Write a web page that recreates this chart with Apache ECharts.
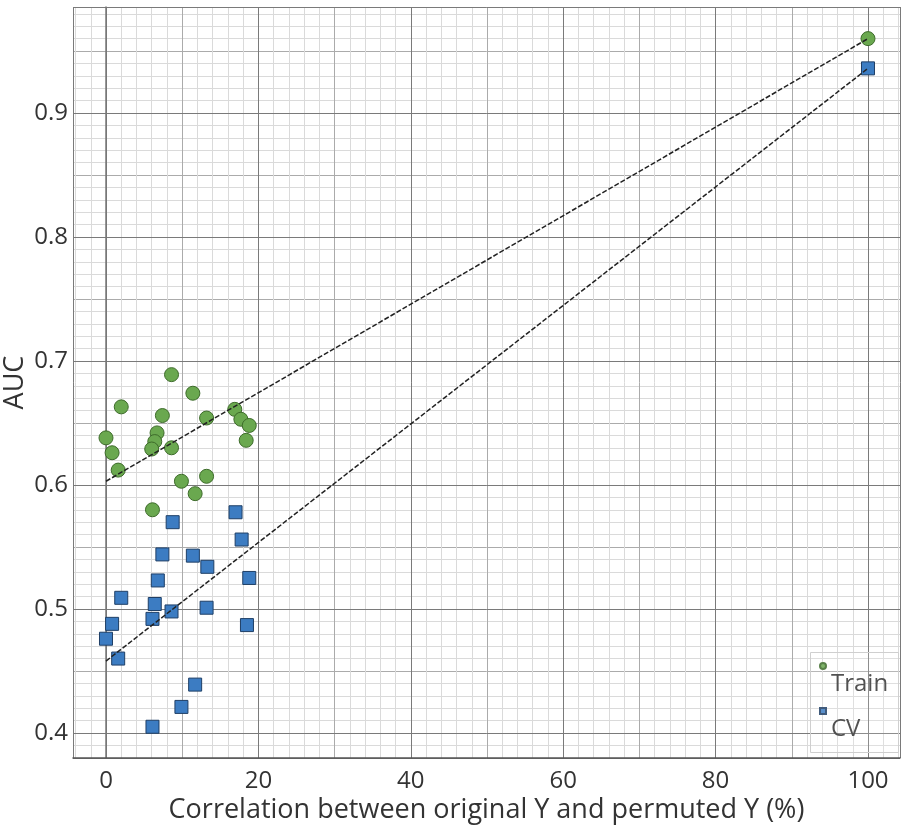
<!DOCTYPE html>
<html><head><meta charset="utf-8">
<script src="https://cdn.jsdelivr.net/npm/echarts@6/dist/echarts.min.js"></script>
<style>html,body{margin:0;padding:0;background:#fff}#c{width:902px;height:829px}</style>
</head><body><div id="c"></div>
<script>
// ---- data ----
const trainX = [8.6, 11.4, 2.0, 7.4, 13.2, 16.9, 17.7, 18.8, 18.4, 6.7, 6.4, 6.0, 8.6, 0, 0.8, 1.6, 9.9, 13.2, 11.7, 6.1, 100];
const trainY = [0.689, 0.674, 0.663, 0.656, 0.654, 0.661, 0.653, 0.648, 0.636, 0.642, 0.635, 0.629, 0.630, 0.638, 0.626, 0.612, 0.603, 0.607, 0.593, 0.580, 0.960];
const cvX = [17.0, 8.75, 17.8, 7.4, 11.4, 13.3, 18.8, 6.8, 2.0, 6.4, 8.6, 13.2, 6.1, 0.8, 18.5, 0, 1.6, 11.7, 9.9, 6.1, 100];
const cvY = [0.578, 0.570, 0.556, 0.544, 0.543, 0.534, 0.525, 0.523, 0.509, 0.504, 0.498, 0.501, 0.492, 0.488, 0.487, 0.476, 0.460, 0.439, 0.421, 0.405, 0.936];
const trainFitX = [0, 100];
const trainFitY = [0.603, 0.960];
const cvFitX = [0, 100];
const cvFitY = [0.458, 0.936];
const seriesNames = ['Train', 'CV'];
const xName = 'Correlation between original Y and permuted Y (%)';
const yName = 'AUC';

const zip = (a, b) => a.map((v, i) => [v, b[i]]);
const FONT = 'Open Sans';
const TXT = '#333';

const chart = echarts.init(document.getElementById('c'), null, {renderer: 'canvas'});
chart.setOption({
  backgroundColor: '#fff',
  animation: false,
  textStyle: {fontFamily: FONT},
  grid: {left: 73, right: 2, top: 7, bottom: 71, containLabel: false, outerBoundsMode: 'none'},
  graphic: [{
    type: 'rect', left: 810, top: 652, silent: true, z: 5,
    shape: {width: 88, height: 100},
    style: {fill: 'rgba(255,255,255,0.15)', stroke: '#cfcfcf', lineWidth: 1}
  }],
  legend: {
    data: [
      {name: seriesNames[0], icon: 'circle'},
      {name: seriesNames[1], icon: 'rect'}
    ],
    orient: 'vertical',
    left: 819, top: 662,
    itemWidth: 6, itemHeight: 6, itemGap: 11,
    padding: 0,
    formatter: '{t|{name}}',
    textStyle: {
      color: TXT, fontFamily: FONT,
      rich: {t: {fontSize: 24, color: TXT, fontFamily: FONT, padding: [36, 0, 0, 0]}}
    }
  },
  xAxis: [{
    type: 'value', min: -4.33, max: 104.2, splitNumber: 5, z: 2,
    name: xName, nameLocation: 'middle', nameGap: 39, nameMoveOverlap: false,
    nameTextStyle: {fontSize: 27, color: TXT, fontFamily: FONT},
    axisLine: {show: true, lineStyle: {color: '#555', width: 1.5}},
    axisTick: {show: false},
    axisLabel: {fontSize: 24, color: TXT, margin: 11, showMinLabel: false, showMaxLabel: false, fontFamily: FONT},
    splitLine: {show: true, lineStyle: {color: '#7a7a7a', width: 1}}
  }, {
    type: 'value', min: -4.33, max: 104.2, splitNumber: 10, z: 1, position: 'bottom',
    axisLine: {show: false}, axisTick: {show: false}, axisLabel: {show: false},
    splitLine: {show: true, lineStyle: {color: '#ababab', width: 1}},
    minorTick: {show: false, splitNumber: 5},
    minorSplitLine: {show: true, lineStyle: {color: '#dadada', width: 1}}
  }],
  yAxis: [{
    type: 'value', min: 0.3798, max: 0.9855, splitNumber: 6, z: 2,
    name: yName, nameLocation: 'middle', nameGap: 44, nameRotate: 90, nameMoveOverlap: false,
    nameTextStyle: {fontSize: 27, color: TXT, fontFamily: FONT},
    axisLine: {show: true, lineStyle: {color: '#777', width: 1.5}},
    axisTick: {show: false},
    axisLabel: {fontSize: 24, color: TXT, margin: 5, showMinLabel: false, showMaxLabel: false, fontFamily: FONT},
    splitLine: {show: true, lineStyle: {color: '#7a7a7a', width: 1}}
  }, {
    type: 'value', min: 0.3798, max: 0.9855, splitNumber: 12, z: 1, position: 'left',
    axisLine: {show: false}, axisTick: {show: false}, axisLabel: {show: false},
    splitLine: {show: true, lineStyle: {color: '#ababab', width: 1}},
    minorTick: {show: false, splitNumber: 5},
    minorSplitLine: {show: true, lineStyle: {color: '#dadada', width: 1}}
  }],
  series: [{
    name: seriesNames[0], type: 'scatter', xAxisIndex: 0, yAxisIndex: 0,
    data: zip(trainX, trainY), symbol: 'circle', symbolSize: 14, z: 3,
    itemStyle: {color: '#6aa84f', borderColor: '#3d6b2a', borderWidth: 1, opacity: 1}
  }, {
    name: seriesNames[1], type: 'scatter', xAxisIndex: 0, yAxisIndex: 0,
    data: zip(cvX, cvY), symbol: 'rect', symbolSize: 13, z: 3,
    itemStyle: {color: '#3c7cc2', borderColor: '#1f3f66', borderWidth: 1, opacity: 1}
  }, {
    name: 'TrainFit', type: 'line', xAxisIndex: 0, yAxisIndex: 0,
    data: zip(trainFitX, trainFitY), symbol: 'none', z: 4, silent: true,
    lineStyle: {color: '#222', width: 1.5, type: [5, 2]}
  }, {
    name: 'CVFit', type: 'line', xAxisIndex: 0, yAxisIndex: 0,
    data: zip(cvFitX, cvFitY), symbol: 'none', z: 4, silent: true,
    lineStyle: {color: '#222', width: 1.5, type: [5, 2]}
  }]
});
</script>
</body></html>
